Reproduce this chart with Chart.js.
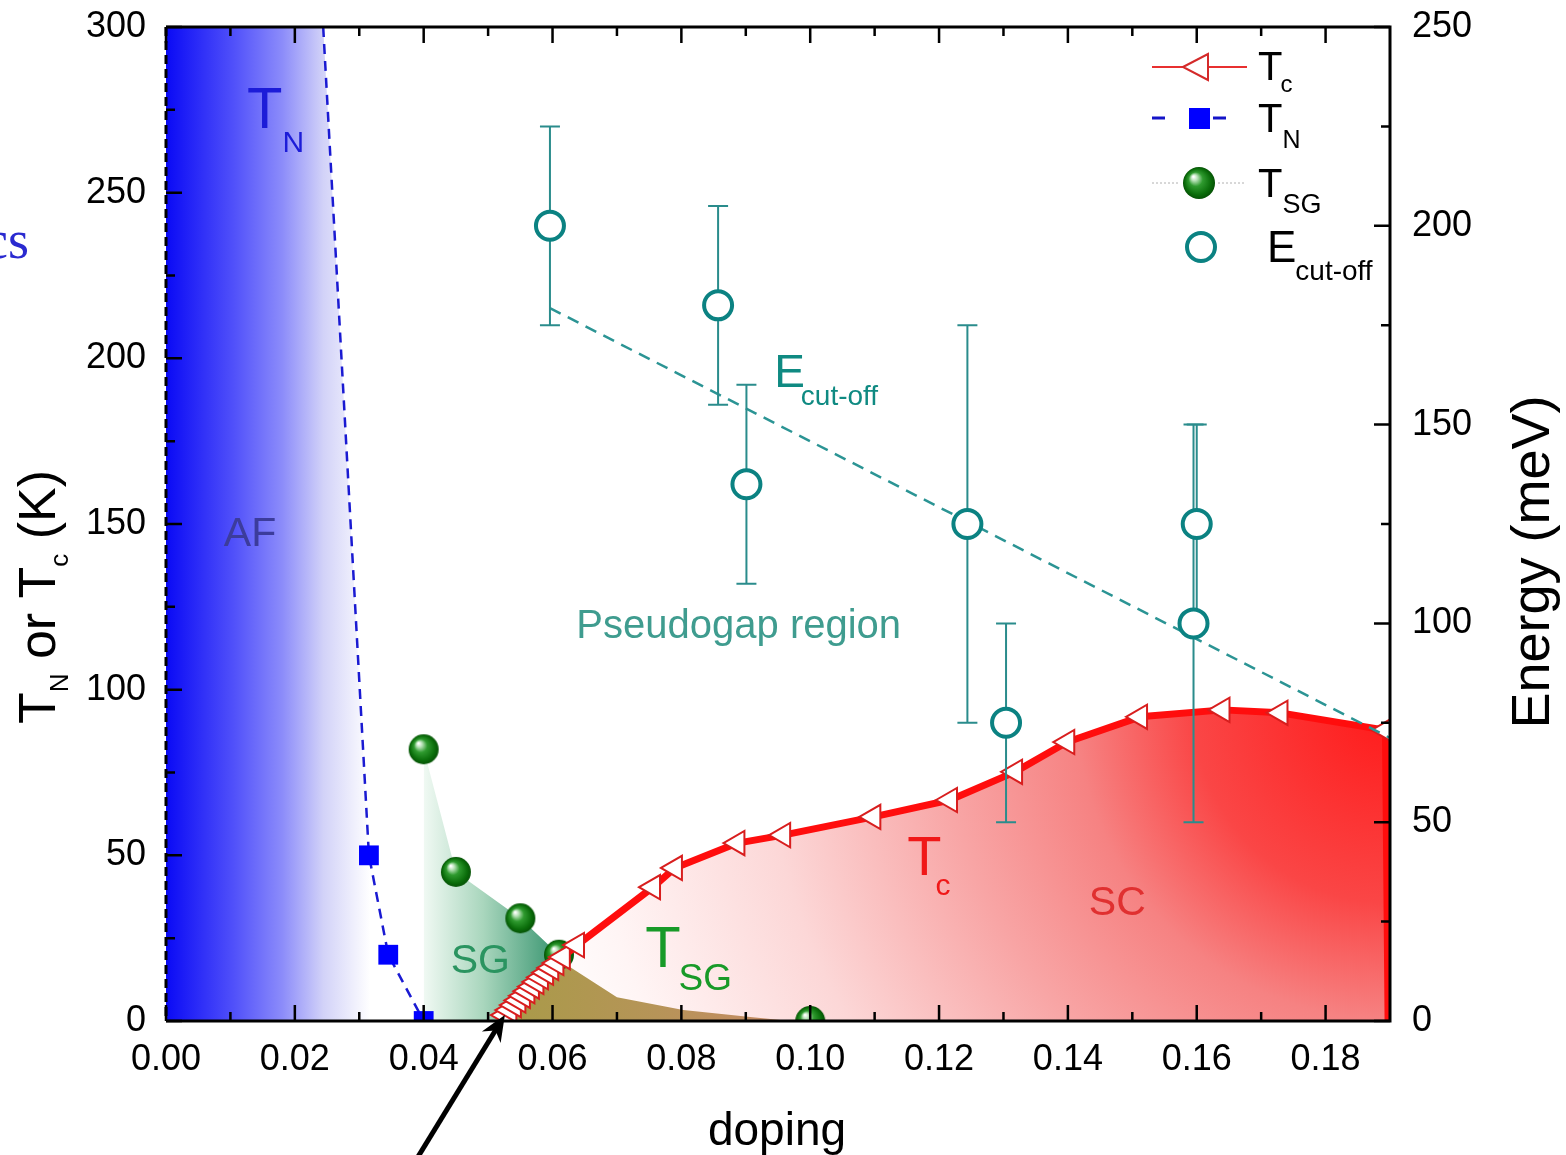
<!DOCTYPE html>
<html><head><meta charset="utf-8">
<script src="https://cdn.jsdelivr.net/npm/chart.js@4.4.1/dist/chart.umd.min.js"></script>
<style>html,body{margin:0;padding:0;background:#fff;overflow:hidden}#wrap{width:1566px;height:1155px}</style>
</head><body><div id="wrap"><canvas id="c" width="1566" height="1155"></canvas></div>
<script>
// ---------- data ----------
const xTickLabels = ['0.00','0.02','0.04','0.06','0.08','0.10','0.12','0.14','0.16','0.18'];
const yTickLabels = ['0','50','100','150','200','250','300'];
const y1TickLabels = ['0','50','100','150','200','250'];

// T_N (Néel temperature), K
const tnX = [0.0244, 0.0315, 0.0345, 0.0400];
const tnY = [300, 50, 20, 0];

// T_SG (spin glass), K
const tsgX = [0.040, 0.045, 0.055, 0.061, 0.100];
const tsgY = [82, 45, 31, 20, 0];

// spin-glass shaded region boundary, K
const sgRegionX = [0.040, 0.045, 0.055, 0.061, 0.0627, 0.0700, 0.0803, 0.0907, 0.0970];
const sgRegionY = [82, 45, 31, 20, 16.3, 7.2, 3.3, 1.2, 0];

// overlap (SG under SC dome) region boundary, K
const overlapX = [0.0526, 0.0610, 0.0627, 0.0700, 0.0803, 0.0907, 0.0970];
const overlapY = [1.8, 19.0, 16.3, 7.2, 3.3, 1.2, 0];

// T_c, K
const tcX = [0.0526,0.0533,0.0540,0.0547,0.0554,0.0561,0.0568,0.0575,0.0582,0.0590,0.0598,0.0606,0.0616,
             0.0638,0.0756,0.0790,0.0887,0.0958,0.1098,0.1217,0.1318,0.1399,0.1512,0.1640,0.1730,0.1893,0.1897];
const tcY = [1.8,3.3,4.8,6.2,7.6,9.0,10.4,11.8,13.2,14.6,16.0,17.5,19.3,
             22.9,40.4,46.2,53.7,56.1,61.6,66.7,75.2,84.2,91.8,93.9,93.0,87.8,0];

// E_cut-off, meV (right axis) with error
const eX = [0.0596, 0.0857, 0.0901, 0.1244, 0.1304, 0.1600, 0.1595];
const eY = [200, 180, 135, 125, 75, 125, 100];
const eErr = [25, 25, 25, 50, 25, 25, 50];

// dashed guide line for E_cut-off, meV
const fitX = [0.0596, 0.19];
const fitY = [179.3, 71.2];

// ---------- helpers ----------
const FONT = "'Liberation Sans', Arial, Helvetica, sans-serif";
Chart.defaults.font.family = FONT;
const toPts = (xs, ys) => xs.map((x, i) => ({x: x, y: ys[i]}));

function makeBall(r) {
  const s = Math.ceil(2 * r + 2);
  const c = document.createElement('canvas');
  c.width = s; c.height = s;
  const g = c.getContext('2d');
  const cx = s / 2, cy = s / 2;
  const grad = g.createRadialGradient(cx - r * 0.35, cy - r * 0.4, r * 0.04, cx, cy, r);
  grad.addColorStop(0, '#ffffff');
  grad.addColorStop(0.16, '#b8e2b8');
  grad.addColorStop(0.42, '#2f9a2f');
  grad.addColorStop(0.8, '#0b6e0b');
  grad.addColorStop(1, '#055205');
  g.fillStyle = grad;
  g.beginPath(); g.arc(cx, cy, r, 0, Math.PI * 2); g.fill();
  return c;
}
const ballImg = makeBall(15);
const ballLegend = makeBall(16);

function hGrad(chart, x0, x1, stops) {
  const ca = chart.chartArea; if (!ca) return null;
  const xs = chart.scales.x;
  const g = chart.ctx.createLinearGradient(xs.getPixelForValue(x0), 0, xs.getPixelForValue(x1), 0);
  stops.forEach(s => g.addColorStop(s[0], s[1]));
  return g;
}

const blueGrad = c => hGrad(c.chart, 0, 0.0317, [[0,'#0a0af5'],[0.33,'#5050fa'],[0.57,'#8c8cfa'],[0.77,'#d2d2f8'],[1,'#ffffff']]);
const greenGrad = c => hGrad(c.chart, 0.0395, 0.059, [[0,'#f4fbf6'],[0.5,'#a9d6bd'],[1,'#4a9f7c']]);
const brownGrad = c => hGrad(c.chart, 0.055, 0.097, [[0,'#aa9a4a'],[0.5,'#b69458'],[1,'#c78a66']]);
const redGrad = c => {
  const chart = c.chart; const ca = chart.chartArea; if (!ca) return null;
  const xs = chart.scales.x, ys = chart.scales.y;
  const cx = xs.getPixelForValue(0.19), cy = ys.getPixelForValue(95);
  const R = Math.hypot(cx - xs.getPixelForValue(0.06), cy - ys.getPixelForValue(0));
  const g = chart.ctx.createRadialGradient(cx, cy, 0, cx, cy, R);
  g.addColorStop(0, '#ff1919');
  g.addColorStop(0.22, '#fa4646');
  g.addColorStop(0.35, '#f68282');
  g.addColorStop(0.5, '#f8a5a5');
  g.addColorStop(0.7, '#fcd7d7');
  g.addColorStop(0.9, '#fff5f5');
  g.addColorStop(1, '#ffffff');
  return g;
};

function drawRuns(ctx, x, y, parts) {
  let cx = x;
  parts.forEach(p => {
    ctx.font = p.size + 'px ' + FONT;
    ctx.fillStyle = p.color;
    ctx.fillText(p.t, cx + (p.dx || 0), y + (p.dy || 0));
    cx += ctx.measureText(p.t).width + (p.dx || 0);
  });
}
function runsWidth(ctx, parts) {
  let w = 0;
  parts.forEach(p => { ctx.font = p.size + 'px ' + FONT; w += ctx.measureText(p.t).width + (p.dx || 0); });
  return w;
}

const decor = {
  id: 'decor',
  beforeDatasetDraw(chart, args) {
    const ds = chart.data.datasets[args.index];
    if (ds.label !== 'ecut') return;
    const ctx = chart.ctx, xs = chart.scales.x, ys = chart.scales.y1;
    ctx.save();
    ctx.strokeStyle = '#2a8c8c'; ctx.lineWidth = 2;
    eX.forEach((xv, i) => {
      const px = xs.getPixelForValue(xv);
      const t = ys.getPixelForValue(eY[i] + eErr[i]);
      const b = ys.getPixelForValue(eY[i] - eErr[i]);
      ctx.beginPath();
      ctx.moveTo(px, t); ctx.lineTo(px, b);
      ctx.moveTo(px - 10, t); ctx.lineTo(px + 10, t);
      ctx.moveTo(px - 10, b); ctx.lineTo(px + 10, b);
      ctx.stroke();
    });
    ctx.restore();
  },
  afterDatasetsDraw(chart) {
    const ctx = chart.ctx, ca = chart.chartArea;
    const xs = chart.scales.x, ys = chart.scales.y, y1 = chart.scales.y1;
    const P = (xv, yv) => [xs.getPixelForValue(xv), ys.getPixelForValue(yv)];
    ctx.save();
    ctx.textAlign = 'left'; ctx.textBaseline = 'alphabetic';

    // ---- region / curve labels ----
    let p = P(0.01258, 269.5);
    drawRuns(ctx, p[0], p[1], [{t:'T', size:58, color:'#1c1cd8'}, {t:'N', size:30, dy:24, color:'#1c1cd8'}]);
    p = P(0.01304, 143.4);
    ctx.font = '41px ' + FONT; ctx.fillStyle = '#3c3c9c'; ctx.textAlign = 'center';
    ctx.fillText('AF', p[0], p[1]);
    ctx.textAlign = 'left';
    p = P(0.0442, 14.5);
    ctx.font = '41px ' + FONT; ctx.fillStyle = '#2a9460'; ctx.fillText('SG', p[0], p[1]);
    p = P(0.07438, 16.3);
    drawRuns(ctx, p[0], p[1], [{t:'T', size:58, color:'#189a28'}, {t:'SG', size:37, dy:23, dx:-2, color:'#189a28'}]);
    p = P(0.0637, 115.6);
    ctx.font = '40px ' + FONT; ctx.fillStyle = '#3f9c8f'; ctx.fillText('Pseudogap region', p[0], p[1]);
    p = P(0.09440, 191.4);
    drawRuns(ctx, p[0], p[1], [{t:'E', size:46, color:'#0f8a82'}, {t:'cut-off', size:28, dy:18, dx:-4, color:'#0f8a82'}]);
    p = P(0.11506, 44.1);
    drawRuns(ctx, p[0], p[1], [{t:'T', size:56, color:'#f01818'}, {t:'c', size:30, dy:20, dx:-6, color:'#f01818'}]);
    p = P(0.14767, 32);
    ctx.font = '41px ' + FONT; ctx.fillStyle = '#e03030'; ctx.textAlign = 'center';
    ctx.fillText('SC', p[0], p[1]);
    ctx.textAlign = 'left';

    // ---- frame ----
    ctx.strokeStyle = '#000'; ctx.lineWidth = 3;
    ctx.beginPath();
    ctx.moveTo(ca.left, ca.top); ctx.lineTo(ca.right, ca.top); ctx.lineTo(ca.right, ca.bottom); ctx.lineTo(ca.left, ca.bottom);
    ctx.stroke();
    ctx.setLineDash([9, 5]);
    ctx.beginPath(); ctx.moveTo(ca.left, ca.top); ctx.lineTo(ca.left, ca.bottom); ctx.stroke();
    ctx.setLineDash([]);

    // ---- inward ticks ----
    ctx.lineWidth = 2.5;
    const xMaj = xTickLabels.map(parseFloat);
    const xStep = xMaj[1] - xMaj[0];
    ctx.beginPath();
    xMaj.forEach(v => {
      const px = xs.getPixelForValue(v);
      ctx.moveTo(px, ca.bottom); ctx.lineTo(px, ca.bottom - 16);
      ctx.moveTo(px, ca.top); ctx.lineTo(px, ca.top + 16);
      const m = xs.getPixelForValue(v + xStep / 2);
      if (m < ca.right - 2) {
        ctx.moveTo(m, ca.bottom); ctx.lineTo(m, ca.bottom - 9);
        ctx.moveTo(m, ca.top); ctx.lineTo(m, ca.top + 9);
      }
    });
    const yMaj = yTickLabels.map(parseFloat);
    const yStep = yMaj[1] - yMaj[0];
    yMaj.forEach(v => {
      const py = ys.getPixelForValue(v);
      ctx.moveTo(ca.left, py); ctx.lineTo(ca.left + 16, py);
      if (v + yStep / 2 < ys.max) {
        const m = ys.getPixelForValue(v + yStep / 2);
        ctx.moveTo(ca.left, m); ctx.lineTo(ca.left + 9, m);
      }
    });
    const y1Maj = y1TickLabels.map(parseFloat);
    const y1Step = y1Maj[1] - y1Maj[0];
    y1Maj.forEach(v => {
      const py = y1.getPixelForValue(v);
      ctx.moveTo(ca.right, py); ctx.lineTo(ca.right - 16, py);
      if (v + y1Step / 2 < y1.max) {
        const m = y1.getPixelForValue(v + y1Step / 2);
        ctx.moveTo(ca.right, m); ctx.lineTo(ca.right - 9, m);
      }
    });
    ctx.stroke();

    // ---- axis titles ----
    ctx.fillStyle = '#000';
    ctx.font = '46px ' + FONT; ctx.textAlign = 'center';
    ctx.fillText('doping', (ca.left + ca.right) / 2 - 1, 1145);
    ctx.textAlign = 'left';
    // left title (rotated)
    const lt = [{t:'T', size:52, color:'#000'}, {t:'N', size:26, dy:13, color:'#000'}, {t:' or T', size:52, color:'#000'},
                {t:'c', size:26, dy:13, color:'#000'}, {t:' (K)', size:52, color:'#000'}];
    ctx.save();
    ctx.translate(55, 597); ctx.rotate(-Math.PI / 2);
    drawRuns(ctx, -runsWidth(ctx, lt) / 2, 0, lt);
    ctx.restore();
    // right title
    ctx.save();
    ctx.translate(1549, 562); ctx.rotate(-Math.PI / 2);
    ctx.font = '54px ' + FONT; ctx.textAlign = 'center'; ctx.fillStyle = '#000';
    ctx.fillText('Energy (meV)', 0, 0);
    ctx.restore();

    // ---- legend ----
    ctx.textAlign = 'left';
    // Tc
    ctx.strokeStyle = '#e83030'; ctx.lineWidth = 2;
    ctx.beginPath(); ctx.moveTo(1152, 67); ctx.lineTo(1247, 67); ctx.stroke();
    ctx.beginPath(); ctx.moveTo(1183, 67); ctx.lineTo(1208, 54); ctx.lineTo(1208, 80); ctx.closePath();
    ctx.fillStyle = '#fff'; ctx.fill(); ctx.strokeStyle = '#d42a2a'; ctx.stroke();
    drawRuns(ctx, 1258, 80, [{t:'T', size:40, color:'#000'}, {t:'c', size:24, dy:12, dx:-2, color:'#000'}]);
    // TN
    ctx.strokeStyle = '#1414c8'; ctx.lineWidth = 3;
    ctx.beginPath(); ctx.moveTo(1152, 118); ctx.lineTo(1165, 118); ctx.moveTo(1213, 118); ctx.lineTo(1226, 118); ctx.stroke();
    ctx.fillStyle = '#0000ff'; ctx.fillRect(1189, 108, 21, 21);
    drawRuns(ctx, 1258, 132, [{t:'T', size:40, color:'#000'}, {t:'N', size:25, dy:16, color:'#000'}]);
    // TSG
    ctx.strokeStyle = '#b0b0b0'; ctx.lineWidth = 1; ctx.setLineDash([2, 2]);
    ctx.beginPath(); ctx.moveTo(1152, 183); ctx.lineTo(1180, 183); ctx.moveTo(1218, 183); ctx.lineTo(1245, 183); ctx.stroke();
    ctx.setLineDash([]);
    ctx.drawImage(ballLegend, 1199 - ballLegend.width / 2, 183 - ballLegend.height / 2);
    drawRuns(ctx, 1258, 197, [{t:'T', size:40, color:'#000'}, {t:'SG', size:27, dy:16, color:'#000'}]);
    // Ecut-off
    ctx.strokeStyle = '#0b8282'; ctx.lineWidth = 4;
    ctx.beginPath(); ctx.arc(1201, 247, 14, 0, Math.PI * 2); ctx.stroke();
    drawRuns(ctx, 1267, 262, [{t:'E', size:44, color:'#000'}, {t:'cut-off', size:28, dy:18, dx:-1, color:'#000'}]);

    // ---- arrow pointing at the lowest Tc point ----
    const tip = P(tcX[0], tcY[0]);
    const tail = [tip[0] - 87, tip[1] + 142];
    const L = Math.hypot(tip[0] - tail[0], tip[1] - tail[1]);
    const d = [(tip[0] - tail[0]) / L, (tip[1] - tail[1]) / L];
    const n = [-d[1], d[0]];
    ctx.strokeStyle = '#000'; ctx.fillStyle = '#000'; ctx.lineWidth = 5;
    ctx.beginPath(); ctx.moveTo(tail[0], tail[1]); ctx.lineTo(tip[0] - d[0] * 12, tip[1] - d[1] * 12); ctx.stroke();
    ctx.beginPath();
    ctx.moveTo(tip[0], tip[1]);
    ctx.lineTo(tip[0] - d[0] * 26 + n[0] * 11, tip[1] - d[1] * 26 + n[1] * 11);
    ctx.lineTo(tip[0] - d[0] * 18, tip[1] - d[1] * 18);
    ctx.lineTo(tip[0] - d[0] * 26 - n[0] * 11, tip[1] - d[1] * 26 - n[1] * 11);
    ctx.closePath(); ctx.fill();

    // ---- stray text fragment at left margin ----
    ctx.font = "54px 'Liberation Serif', 'Times New Roman', serif";
    ctx.fillStyle = '#2a2ad0'; ctx.textAlign = 'right';
    ctx.fillText('cs', 29, 258);
    ctx.restore();
  }
};

const noVPad = s => { s.paddingTop = 0; s.paddingBottom = 0; };

const chart = new Chart(document.getElementById('c'), {
  type: 'line',
  data: {
    datasets: [
      { label: 'afFill', data: [{x: 0, y: tnY[0]}].concat(toPts(tnX, tnY)), borderWidth: 0, pointRadius: 0,
        fill: 'origin', backgroundColor: blueGrad, order: 10, clip: 0 },
      { label: 'sgFill', data: toPts(sgRegionX, sgRegionY), borderWidth: 0, pointRadius: 0,
        fill: 'origin', backgroundColor: greenGrad, order: 9, clip: 0 },
      { label: 'scFill', data: toPts(tcX, tcY), borderWidth: 0, pointRadius: 0,
        fill: 'origin', backgroundColor: redGrad, order: 8, clip: 0 },
      { label: 'overlap', data: toPts(overlapX, overlapY), borderWidth: 0, pointRadius: 0,
        fill: 'origin', backgroundColor: brownGrad, order: 7, clip: 0 },
      { label: 'TN', data: toPts(tnX, tnY), borderColor: '#1a1ad2', borderWidth: 2.5, borderDash: [10, 7],
        pointStyle: 'rect', pointRadius: c => (c.dataIndex === 0 ? 0 : 14), pointBackgroundColor: '#0000ff',
        pointBorderWidth: 0, fill: false, order: 6, clip: 0 },
      { label: 'TSG', data: toPts(tsgX, tsgY), showLine: false, pointStyle: ballImg, pointRadius: 15,
        fill: false, order: 5, clip: 0 },
      { label: 'Tc', data: toPts(tcX, tcY), borderColor: '#ff0d0d', borderWidth: 7, borderJoinStyle: 'round',
        pointStyle: 'triangle', pointRotation: -90, pointRadius: c => (c.dataIndex === tcX.length - 1 ? 0 : 14),
        pointBackgroundColor: '#ffffff', pointBorderColor: '#d81e1e', pointBorderWidth: 2, fill: false, order: 4, clip: 0 },
      { label: 'fit', data: toPts(fitX, fitY), yAxisID: 'y1', borderColor: '#2b9494', borderWidth: 2.5, borderDash: [12, 8],
        pointRadius: 0, fill: false, order: 3 },
      { label: 'ecut', data: toPts(eX, eY), yAxisID: 'y1', showLine: false, pointStyle: 'circle', pointRadius: 14,
        pointBorderWidth: 4, pointBorderColor: '#0b8282', pointBackgroundColor: '#ffffff', fill: false, order: 2 }
    ]
  },
  options: {
    responsive: false, animation: false, devicePixelRatio: 1, events: [],
    layout: { padding: { top: 27, left: 0, right: 0, bottom: 0 } },
    plugins: { legend: { display: false }, tooltip: { enabled: false }, title: { display: false } },
    scales: {
      x: { type: 'linear', position: 'bottom', min: 0, max: 0.19,
        grid: { display: false, drawTicks: false }, border: { display: false },
        ticks: { stepSize: 0.02, includeBounds: false, autoSkip: false, maxRotation: 0, minRotation: 0, padding: 17,
          color: '#000', font: { size: 36, family: FONT },
          callback: v => { const s = Number(v).toFixed(2); return xTickLabels.includes(s) ? s : ''; } },
        afterFit: s => { s.height = 134; s.paddingLeft = 0; s.paddingRight = 0; } },
      y: { type: 'linear', position: 'left', min: 0, max: 300,
        grid: { display: false, drawTicks: false }, border: { display: false },
        ticks: { stepSize: 50, padding: 20, color: '#000', font: { size: 36, family: FONT },
          callback: v => { const s = String(Math.round(v)); return yTickLabels.includes(s) ? s : ''; } },
        afterFit: s => { s.width = 166; noVPad(s); } },
      y1: { type: 'linear', position: 'right', min: 0, max: 250,
        grid: { display: false, drawTicks: false }, border: { display: false },
        ticks: { stepSize: 50, padding: 22, color: '#000', font: { size: 36, family: FONT },
          callback: v => { const s = String(Math.round(v)); return y1TickLabels.includes(s) ? s : ''; } },
        afterFit: s => { s.width = 176; noVPad(s); } }
    }
  },
  plugins: [decor]
});
</script>
</body></html>
